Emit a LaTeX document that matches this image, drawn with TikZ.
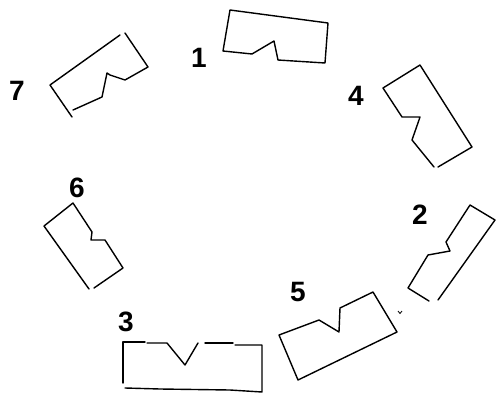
\documentclass[tikz,border=0pt]{standalone}
\usepackage{fontspec}
\setmainfont{Liberation Sans}
\begin{document}
\begin{tikzpicture}[x=1pt,y=-1pt,
  piece/.style={draw=black,line width=1.4pt,line join=round,line cap=round},
  lab/.style={font=\bfseries\fontsize{28}{28}\selectfont,inner sep=0pt}]
\useasboundingbox[fill=white] (0,0) rectangle (496,394);
% piece 1
\draw[piece] (230,10) -- (328,23) -- (325,63) -- (278,60) -- (274,41) -- (252,54) -- (223,51) -- cycle;
% piece 7
\draw[piece] (73,110) -- (102,97) -- (107,73) -- (110,75) -- (125,80) -- (148,67) -- (125,33);
\draw[piece] (120,35) -- (50,85) -- (72,117);
% piece 4
\draw[piece] (438,167) -- (472,147) -- (420,65) -- (383,88) -- (402,117) -- (420,117) -- (419,120) -- (412,140) -- (434,167);
% piece 6
\draw[piece] (94,288) -- (123,268) -- (105,240) -- (91,240) -- (92,232) -- (73,203) -- (44,226) -- (89,289);
% piece 2
\draw[piece] (438,300) -- (495,220) -- (470,205) -- (446,242) -- (450,251) -- (428,255) -- (408,288) -- (429,301);
% piece 5
\draw[piece] (279,335) -- (298,380) -- (397,332) -- (373,292) -- (340,308) -- (339,332) -- (319,320) -- cycle;
\draw[line width=0.8pt] (398,311) -- (400,313.5) -- (402,311);
% piece 3
\draw[piece] (123,383) -- (123,342) -- (145,342);
\draw[piece] (147,343) -- (167,343) -- (185,365) -- (198,343);
\draw[piece] (205,343) -- (233,343);
\draw[piece] (235,345) -- (262,345) -- (262,392) -- (230,390) -- (160,389) -- (125,388);
% labels
\node[lab] (l1) at (199,58) {1};
\node[lab] (l7) at (17,91) {7};
\node[lab] (l4) at (356,96) {4};
\node[lab] (l6) at (77,188) {6};
\node[lab] (l2) at (420,215) {2};
\node[lab] (l5) at (298,292) {5};
\node[lab] (l3) at (126,322) {3};
\end{tikzpicture}
\end{document}
